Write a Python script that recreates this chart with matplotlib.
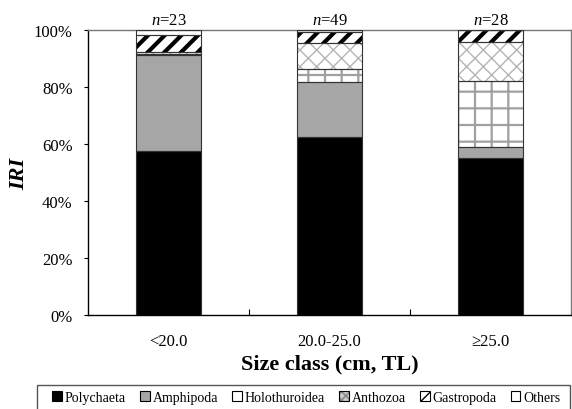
import matplotlib
matplotlib.use("Agg")
import matplotlib.pyplot as plt
from matplotlib.patches import Patch, Rectangle
from matplotlib.legend_handler import HandlerTuple
import numpy as np

plt.rcParams["font.family"] = ["Liberation Serif", "DejaVu Serif"]
plt.rcParams["mathtext.fontset"] = "custom"
plt.rcParams["mathtext.rm"] = "Liberation Serif"
plt.rcParams["mathtext.it"] = "Liberation Serif:italic"

# Size classes and sample sizes
size_classes = ["<20.0", "20.0-25.0", "\u226525.0"]
sample_n = [23, 49, 28]

# %IRI by prey group for each size class (bottom to top of the stack)
groups = ["Polychaeta", "Amphipoda", "Holothuroidea", "Anthozoa", "Gastropoda", "Others"]
polychaeta = [57.4, 62.3, 55.0]
amphipoda = [33.8, 19.3, 3.8]
holothuroidea = [0.5, 4.7, 23.3]
anthozoa = [0.5, 9.1, 13.8]
gastropoda = [6.1, 4.0, 4.1]
others = [1.7, 0.6, 0.0]
series = [polychaeta, amphipoda, holothuroidea, anthozoa, gastropoda, others]

# fill colour, hatch, hatch colour, hatch line width
styles = [
    ("black", "", "black", 1.0),
    ("#a6a6a6", "", "#a6a6a6", 1.0),
    ("white", "+", "#a0a0a0", 1.6),
    ("white", "xx", "#b4b4b4", 1.0),
    ("white", "//", "black", 3.0),
    ("white", "", "white", 1.0),
]
# small legend swatches: fill colour, hatch, hatch colour, hatch line width
swatches = [
    ("black", "", "black", 1.0),
    ("#a6a6a6", "", "#a6a6a6", 1.0),
    ("white", "", "white", 1.0),
    ("#c8c8c8", "xxxx", "#808080", 1.0),
    ("white", "///", "black", 3.0),
    ("white", "", "white", 1.0),
]

fig = plt.figure(figsize=(5.72, 4.10), dpi=100)
ax = fig.add_axes([88 / 572, 1 - 316 / 410, 483 / 572, 285 / 410])

x = np.arange(len(size_classes))
width = 0.40
bottom = np.zeros(len(size_classes))
for vals, (fc, hatch, hc, hlw) in zip(series, styles):
    vals = np.array(vals)
    bars = ax.bar(x, vals, width, bottom=bottom, facecolor=fc, edgecolor=hc,
                  hatch=hatch if hatch else None, linewidth=0, zorder=2)
    for b in bars:
        if hasattr(b, "set_hatch_linewidth"):
            b.set_hatch_linewidth(hlw)
    ax.bar(x, vals, width, bottom=bottom, fill=False, edgecolor="#333333",
           linewidth=0.8, zorder=3)
    bottom += vals

handles = []
for fc, hatch, hc, hlw in swatches:
    h1 = Patch(facecolor=fc, edgecolor=hc, hatch=hatch if hatch else None, linewidth=0)
    if hasattr(h1, "set_hatch_linewidth"):
        h1.set_hatch_linewidth(hlw)
    h2 = Patch(fill=False, edgecolor="black", linewidth=0.8)
    handles.append((h1, h2))

for xi, n in zip(x, sample_n):
    ax.text(xi, 100.8, r"$n$=%d" % n, ha="center", va="bottom", fontsize=12)

ax.set_xlim(-0.5, 2.5)
ax.set_ylim(0, 100)
ax.set_yticks(np.arange(0, 101, 20))
ax.set_yticklabels(["%d%%" % v for v in range(0, 101, 20)])
ax.set_xticks(x)
ax.set_xticklabels(size_classes)
ax.set_xticks([0.5, 1.5], minor=True)
ax.tick_params(axis="x", which="major", length=0, pad=13, labelsize=12)
ax.tick_params(axis="x", which="minor", direction="in", length=4, width=0.8)
ax.tick_params(axis="y", direction="out", length=3, width=0.8, pad=8, labelsize=12)

ax.set_xlabel("Size class (cm, TL)", fontsize=16, fontweight="bold", labelpad=3)
ax.set_ylabel("IRI", fontsize=16, fontweight="bold", fontstyle="italic", labelpad=3)

ax.spines["left"].set_color("black")
ax.spines["bottom"].set_color("black")
ax.spines["top"].set_color("#777777")
ax.spines["right"].set_color("#777777")
for s in ax.spines.values():
    s.set_linewidth(1.0)

# Legend entries, with a separate box drawn around them
leg = fig.legend(handles, groups, handler_map={tuple: HandlerTuple(ndivide=1, pad=0)},
                 loc="upper left", bbox_to_anchor=(48 / 572, 1 - 388 / 410),
                 ncol=6, fontsize=10, frameon=False,
                 handlelength=0.7, handleheight=0.7, handletextpad=0.2,
                 columnspacing=1.02, borderpad=0.3, borderaxespad=0)
fig.patches.append(Rectangle((37 / 572, -0.01), 533 / 572, 1 - 386 / 410 + 0.01,
                             transform=fig.transFigure, fill=False,
                             edgecolor="#555555", linewidth=1.0))

fig.savefig("out.png", dpi=100)
